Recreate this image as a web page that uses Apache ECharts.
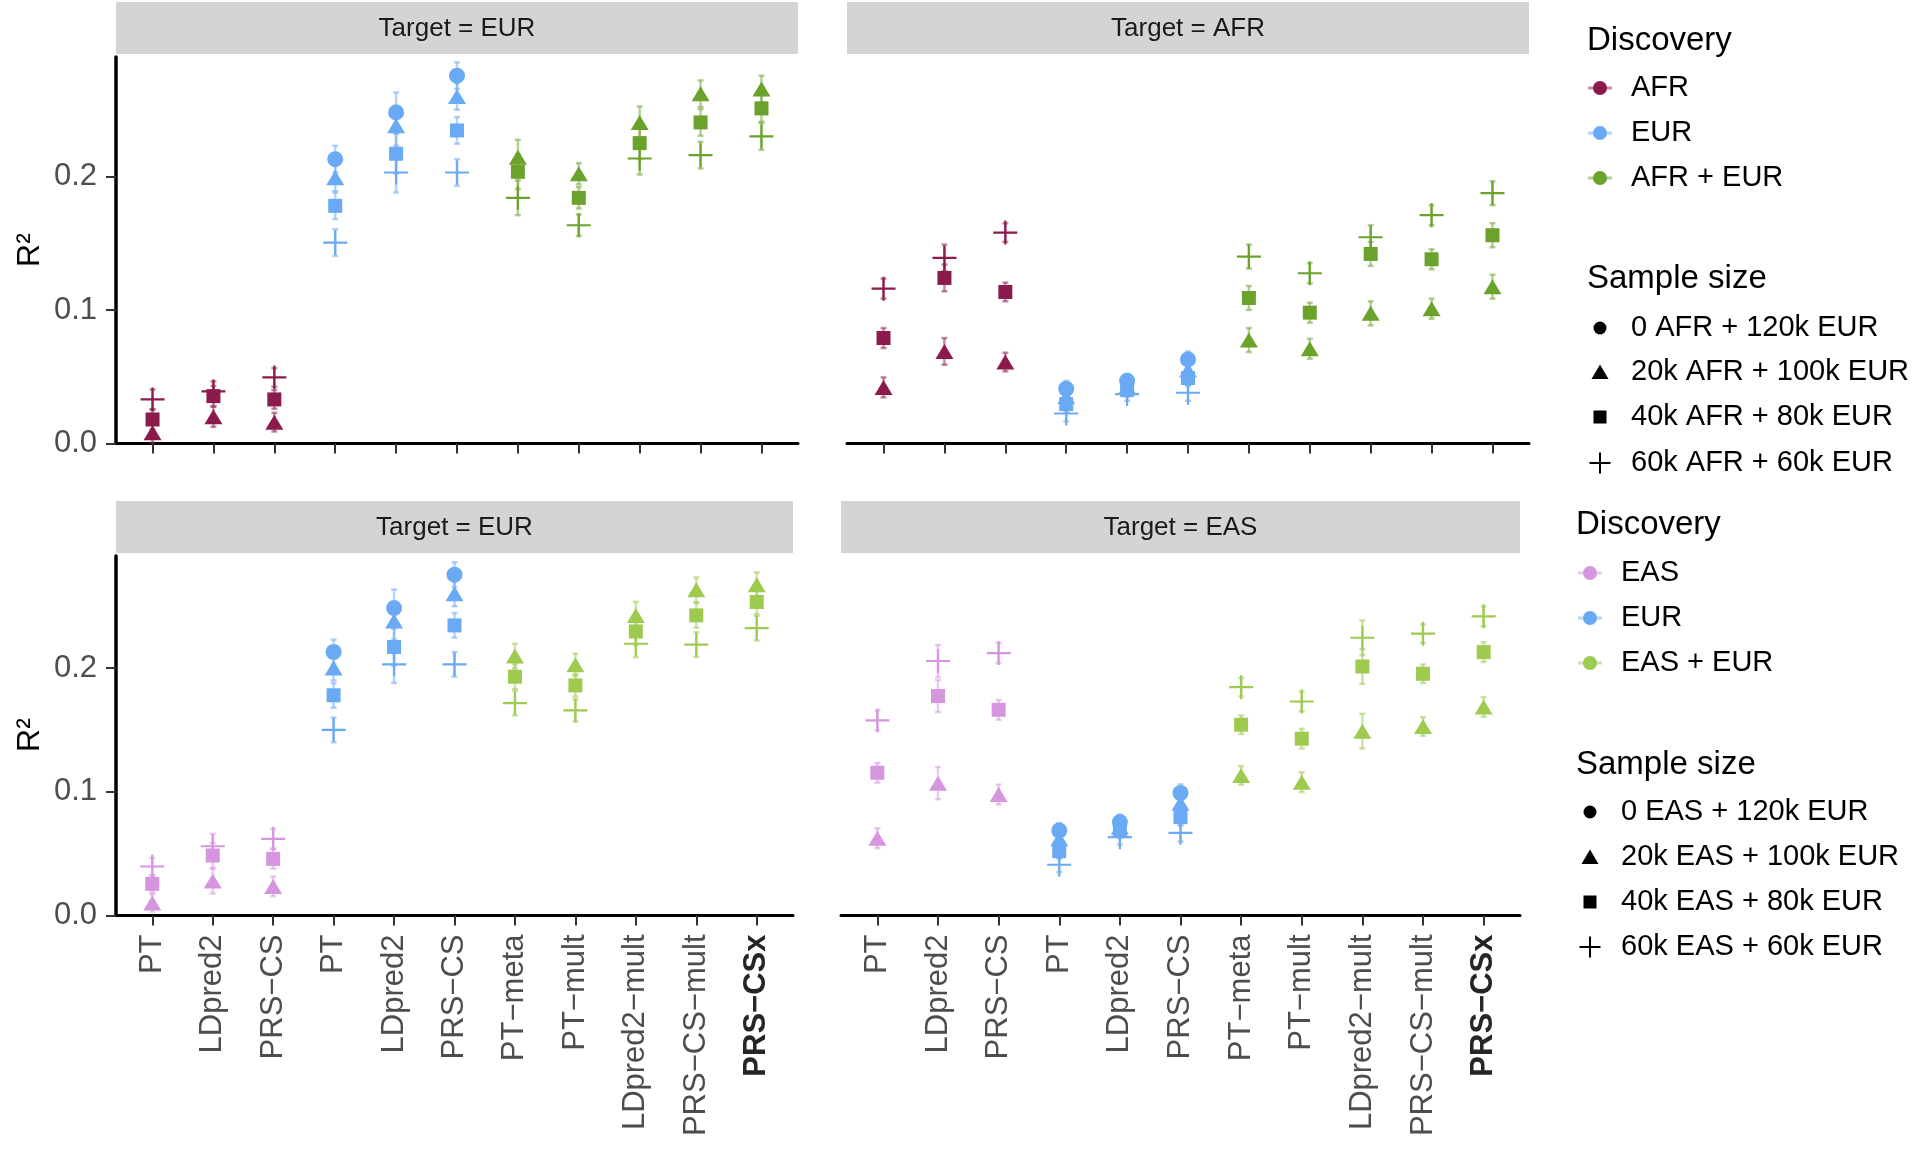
<!DOCTYPE html>
<html>
<head>
<meta charset="utf-8">
<title>PRS R2 by method</title>
<script src="https://cdn.jsdelivr.net/npm/echarts@6/dist/echarts.min.js"></script>
<style>
  html, body { margin: 0; padding: 0; background: #fff; }
  #chart { width: 1920px; height: 1149px; }
</style>
</head>
<body>
<div id="chart"></div>
<script>
/* ---------- data ---------- */
const methods = ['PT', 'LDpred2', 'PRS−CS', 'PT', 'LDpred2', 'PRS−CS',
                 'PT−meta', 'PT−mult', 'LDpred2−mult', 'PRS−CS−mult', 'PRS−CSx'];
const yTicks = [0, 0.1, 0.2];

// top row, Target = EUR  (discovery AFR / EUR / AFR + EUR)
const afrEurCircle   = [null, null, null, 0.213, 0.248, 0.2755, null, null, null, null, null];
const afrEurTriangle = [0.008, 0.020, 0.016, 0.199, 0.238, 0.260, 0.2145, 0.202, 0.2405, 0.262, 0.2655];
const afrEurSquare   = [0.018, 0.0355, 0.033, 0.178, 0.217, 0.2345, 0.2035, 0.184, 0.225, 0.2405, 0.251];
const afrEurPlus     = [0.033, 0.039, 0.0495, 0.1505, 0.203, 0.203, 0.184, 0.1635, 0.2135, 0.216, 0.230];
const afrEurErr      = [0.0075, 0.0075, 0.007, 0.010, 0.015, 0.010, 0.013, 0.008, 0.012, 0.010, 0.010];

// top row, Target = AFR
const afrAfrCircle   = [null, null, null, 0.041, 0.047, 0.063, null, null, null, null, null];
const afrAfrTriangle = [0.042, 0.069, 0.061, 0.035, 0.0425, 0.055, 0.0775, 0.071, 0.0975, 0.101, 0.1175];
const afrAfrSquare   = [0.079, 0.124, 0.1135, 0.0295, 0.040, 0.049, 0.109, 0.098, 0.142, 0.138, 0.156];
const afrAfrPlus     = [0.116, 0.139, 0.158, 0.0225, 0.037, 0.038, 0.140, 0.1275, 0.1545, 0.171, 0.1875];
const afrAfrErr      = [0.0075, 0.010, 0.007, 0.006, 0.005, 0.006, 0.009, 0.0075, 0.009, 0.0075, 0.009];

// bottom row, Target = EUR  (discovery EAS / EUR / EAS + EUR)
const easEurCircle   = [null, null, null, 0.213, 0.2485, 0.2755, null, null, null, null, null];
const easEurTriangle = [0.0102, 0.0278, 0.0235, 0.200, 0.238, 0.260, 0.2097, 0.2027, 0.2426, 0.2633, 0.2674];
const easEurSquare   = [0.0256, 0.0485, 0.0458, 0.178, 0.217, 0.2345, 0.193, 0.186, 0.2296, 0.2426, 0.2534];
const easEurPlus     = [0.0396, 0.056, 0.062, 0.150, 0.203, 0.203, 0.1717, 0.1658, 0.2197, 0.2189, 0.2323];
const easEurErr      = [0.007, 0.010, 0.008, 0.010, 0.015, 0.010, 0.010, 0.009, 0.011, 0.010, 0.010];

// bottom row, Target = EAS
const easEasCircle   = [null, null, null, 0.0687, 0.0755, 0.099, null, null, null, null, null];
const easEasTriangle = [0.0625, 0.107, 0.0978, 0.062, 0.0714, 0.0908, 0.1132, 0.1078, 0.149, 0.1528, 0.1685];
const easEasSquare   = [0.1154, 0.1774, 0.1663, 0.052, 0.0687, 0.0795, 0.1542, 0.1429, 0.2013, 0.1954, 0.2129];
const easEasPlus     = [0.1577, 0.2057, 0.2121, 0.041, 0.0633, 0.0668, 0.1846, 0.173, 0.2245, 0.2278, 0.2418];
const easEasErr      = [0.008, 0.013, 0.008, 0.006, 0.006, 0.007, 0.0075, 0.008, 0.014, 0.0075, 0.008];

const topDiscovery    = ['AFR', 'EUR', 'AFR + EUR'];
const bottomDiscovery = ['EAS', 'EUR', 'EAS + EUR'];
const topSizes    = ['0 AFR + 120k EUR', '20k AFR + 100k EUR', '40k AFR + 80k EUR', '60k AFR + 60k EUR'];
const bottomSizes = ['0 EAS + 120k EUR', '20k EAS + 100k EUR', '40k EAS + 80k EUR', '60k EAS + 60k EUR'];

/* ---------- style ---------- */
const FONT = '"Liberation Sans", Arial, Helvetica, sans-serif';
const topColors    = ['#8b1a4d', '#6aa9f3', '#6ba22b'];
const bottomColors = ['#d596df', '#6aa9f3', '#9dca4f'];
const PLUS = 'path://M-0.09,-1H0.09V-0.09H1V0.09H0.09V1H-0.09V0.09H-1V-0.09H-0.09Z';

const shapes = [
    { key: 'circle',   symbol: 'circle',   size: 16 },
    { key: 'triangle', symbol: 'triangle', size: [18, 15] },
    { key: 'square',   symbol: 'rect',     size: 14 },
    { key: 'plus',     symbol: PLUS,       size: 24 },
];

const panels = [
    { title: 'Target = EUR', colors: topColors,    circle: afrEurCircle, triangle: afrEurTriangle, square: afrEurSquare, plus: afrEurPlus, err: afrEurErr,
      grid: { left: 116, top: 57, width: 682, height: 386.5 }, yMax: 0.2895, strip: [116, 2, 682, 52], yAxis: true, xLabels: false },
    { title: 'Target = AFR', colors: topColors,    circle: afrAfrCircle, triangle: afrAfrTriangle, square: afrAfrSquare, plus: afrAfrPlus, err: afrAfrErr,
      grid: { left: 847, top: 57, width: 682, height: 386.5 }, yMax: 0.2895, strip: [847, 2, 682, 52], yAxis: false, xLabels: false },
    { title: 'Target = EUR', colors: bottomColors, circle: easEurCircle, triangle: easEurTriangle, square: easEurSquare, plus: easEurPlus, err: easEurErr,
      grid: { left: 116, top: 556, width: 677, height: 359.5 }, yMax: 0.2906, strip: [116, 501, 677, 52], yAxis: true, xLabels: true },
    { title: 'Target = EAS', colors: bottomColors, circle: easEasCircle, triangle: easEasTriangle, square: easEasSquare, plus: easEasPlus, err: easEasErr,
      grid: { left: 841, top: 556, width: 679, height: 359.5 }, yMax: 0.2906, strip: [841, 501, 679, 52], yAxis: false, xLabels: true },
];

const groupOf = (i) => (i < 3 ? 0 : i < 6 ? 1 : 2);
const tickPos = methods.map((m, i) => i);

/* ---------- axes & series ---------- */
const grids = [], xAxes = [], yAxes = [], series = [];

panels.forEach((p, pi) => {
    grids.push(p.grid);

    xAxes.push({
        gridIndex: pi, type: 'value', min: -0.6, max: 10.6,
        axisLine : { show: true, onZero: false, lineStyle: { color: '#000', width: 3 } },
        axisTick : { show: true, customValues: tickPos, length: 10, lineStyle: { color: '#333', width: 2 } },
        axisLabel: {
            show: p.xLabels, customValues: tickPos, rotate: 90, margin: 19,
            fontSize: 31, fontFamily: FONT, color: '#4d4d4d',
            formatter: (v) => (v === 10 ? '{b|' + methods[v] + '}' : methods[v]),
            rich: { b: { fontWeight: 'bold', fontSize: 31, fontFamily: FONT, color: '#262626' } },
        },
        splitLine: { show: false },
    });

    yAxes.push({
        gridIndex: pi, type: 'value', min: 0, max: p.yMax,
        axisLine : { show: p.yAxis, onZero: false, lineStyle: { color: '#000', width: 3.5 } },
        axisTick : { show: p.yAxis, customValues: yTicks, length: 10, lineStyle: { color: '#333', width: 2 } },
        axisLabel: {
            show: p.yAxis, customValues: yTicks, margin: 19,
            fontSize: 31, fontFamily: FONT, color: '#4d4d4d',
            formatter: (v) => v.toFixed(1),
        },
        splitLine: { show: false },
    });

    // error bars, one per point
    const bars = [];
    shapes.forEach((s) => {
        p[s.key].forEach((v, i) => {
            if (v == null) return;
            bars.push([i, v - p.err[i], v + p.err[i], groupOf(i)]);
        });
    });
    series.push({
        type: 'custom', xAxisIndex: pi, yAxisIndex: pi, z: 1, silent: true,
        data: bars,
        renderItem: (params, api) => {
            const x = api.value(0);
            const lo = api.coord([x, api.value(1)]);
            const hi = api.coord([x, api.value(2)]);
            const style = { stroke: p.colors[api.value(3)], lineWidth: 2.5, opacity: 0.5 };
            return {
                type: 'group',
                children: [
                    { type: 'line', shape: { x1: lo[0], y1: lo[1], x2: hi[0], y2: hi[1] }, style },
                    { type: 'line', shape: { x1: lo[0] - 3, y1: lo[1], x2: lo[0] + 3, y2: lo[1] }, style },
                    { type: 'line', shape: { x1: hi[0] - 3, y1: hi[1], x2: hi[0] + 3, y2: hi[1] }, style },
                ],
            };
        },
    });

    // points
    shapes.forEach((s) => {
        const data = [];
        p[s.key].forEach((v, i) => {
            if (v == null) return;
            data.push({ value: [i, v], itemStyle: { color: p.colors[groupOf(i)] } });
        });
        series.push({
            type: 'scatter', xAxisIndex: pi, yAxisIndex: pi, z: 3,
            symbol: s.symbol, symbolSize: s.size, data,
            itemStyle: { opacity: 1 },
        });
    });
});

/* ---------- strips, titles, legends ---------- */
const graphic = [];

function txt(text, x, y, size, opts = {}) {
    return {
        type: 'text', x, y, rotation: opts.rotation || 0, silent: true,
        style: {
            text, fill: opts.color || '#000', font: `${opts.weight || 'normal'} ${size}px ${FONT}`,
            textAlign: opts.align || 'left', textVerticalAlign: 'middle',
            align: opts.align || 'left', verticalAlign: 'middle',
        },
    };
}

panels.forEach((p) => {
    const [sx, sy, sw, sh] = p.strip;
    graphic.push({ type: 'rect', shape: { x: sx, y: sy, width: sw, height: sh }, style: { fill: '#d4d4d4' }, silent: true });
    graphic.push(txt(p.title, sx + sw / 2, sy + sh / 2 + 1, 26, { align: 'center', color: '#1a1a1a' }));
});

graphic.push(txt('R²', 30, 250, 32, { align: 'center', rotation: Math.PI / 2 }));
graphic.push(txt('R²', 30, 735, 32, { align: 'center', rotation: Math.PI / 2 }));

function sizeKey(kind, x, y) {
    const fill = { fill: '#000' };
    if (kind === 0) return { type: 'circle', shape: { cx: x, cy: y, r: 6.5 }, style: fill, silent: true };
    if (kind === 1) return { type: 'polygon', shape: { points: [[x, y - 7.5], [x + 8.5, y + 7], [x - 8.5, y + 7]] }, style: fill, silent: true };
    if (kind === 2) return { type: 'rect', shape: { x: x - 6.5, y: y - 6.5, width: 13, height: 13 }, style: fill, silent: true };
    return {
        type: 'group', silent: true, children: [
            { type: 'line', shape: { x1: x - 10.5, y1: y, x2: x + 10.5, y2: y }, style: { stroke: '#000', lineWidth: 2 } },
            { type: 'line', shape: { x1: x, y1: y - 10.5, x2: x, y2: y + 10.5 }, style: { stroke: '#000', lineWidth: 2 } },
        ],
    };
}

function legend(cfg) {
    graphic.push(txt('Discovery', cfg.titleX, cfg.discTitleY, 33));
    cfg.discovery.forEach((label, i) => {
        const y = cfg.discY[i];
        graphic.push({ type: 'line', shape: { x1: cfg.keyX - 12, y1: y, x2: cfg.keyX + 12, y2: y },
                       style: { stroke: cfg.colors[i], lineWidth: 3, opacity: 0.5 }, silent: true });
        graphic.push({ type: 'circle', shape: { cx: cfg.keyX, cy: y, r: 7 }, style: { fill: cfg.colors[i] }, silent: true });
        graphic.push(txt(label, cfg.textX, y, 29));
    });
    graphic.push(txt('Sample size', cfg.titleX, cfg.sizeTitleY, 33));
    cfg.sizes.forEach((label, i) => {
        const y = cfg.sizeY[i];
        graphic.push(sizeKey(i, cfg.keyX, y));
        graphic.push(txt(label, cfg.textX, y, 29));
    });
}

legend({ titleX: 1587, keyX: 1600, textX: 1631, colors: topColors, discovery: topDiscovery, sizes: topSizes,
         discTitleY: 41, discY: [88, 133, 178], sizeTitleY: 279, sizeY: [328, 372, 417, 463] });
legend({ titleX: 1576, keyX: 1590, textX: 1621, colors: bottomColors, discovery: bottomDiscovery, sizes: bottomSizes,
         discTitleY: 525, discY: [573, 618, 663], sizeTitleY: 765, sizeY: [812, 857, 902, 947] });

/* ---------- render ---------- */
const chart = echarts.init(document.getElementById('chart'), null, { renderer: 'canvas' });
chart.setOption({
    backgroundColor: '#fff',
    animation: false,
    grid: grids,
    xAxis: xAxes,
    yAxis: yAxes,
    series,
    graphic,
});
window.addEventListener('resize', () => chart.resize());
</script>
</body>
</html>
